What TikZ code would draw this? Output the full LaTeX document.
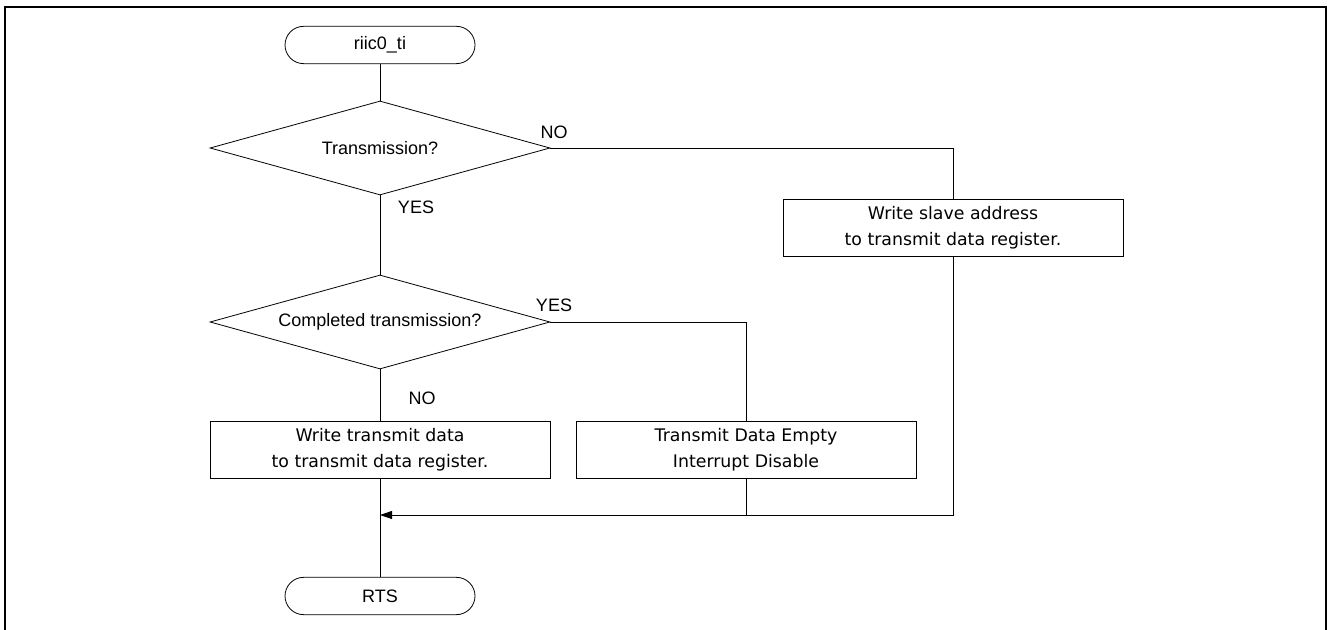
\documentclass[tikz,border=0pt]{standalone}
\usepackage{fontspec}
\setmainfont{Liberation Sans}
\newfontfamily\boxfont{DejaVu Sans}
\usetikzlibrary{calc,arrows.meta,positioning,shapes.geometric}

\begin{document}
\begin{tikzpicture}[
		x=0.75pt, y=-0.75pt,
		every node/.style={font=\fontsize{13.5}{16}\selectfont},
		line/.style={line width=0.6pt},
		terminal/.style={draw, line width=0.6pt, rectangle, rounded corners=14pt, minimum width=142.5pt, minimum height=28pt, inner sep=0pt},
		decision/.style={draw, line width=0.6pt, diamond, aspect=3.6, minimum width=255pt, minimum height=70.5pt, inner sep=0pt},
		process/.style={draw, line width=0.6pt, rectangle, minimum width=255pt, minimum height=42.75pt, inner sep=0pt, align=center, font=\boxfont\fontsize{13}{19.5}\selectfont},
		lbl/.style={inner sep=0pt}
	]
		\useasboundingbox (0,0) rectangle (1328,630);
		\draw[line width=1.9pt] (5,630) -- (5,7) -- (1326,7) -- (1326,630);

		\node[terminal] (start) at (380,45) {riic0\_ti};
		\node[decision] (txq) at (380,148) {Transmission?};
		\node[decision] (doneq) at (380,322) {Completed transmission?};
		\node[process] (wrdata) at (380,450) {Write transmit data\\to transmit data register.};
		\node[process] (tiedis) at (746,450) {Transmit Data Empty\\Interrupt Disable};
		\node[process] (wrslave) at (953,228) {Write slave address\\to transmit data register.};
		\node[terminal] (rts) at (380,596) {RTS};
		\coordinate (merge) at (380,515);

		\draw[line] (start) -- (txq);
		\draw[line] (txq.east) -| (wrslave.north);
		\draw[line] (txq) -- (doneq);
		\draw[line] (doneq.east) -| (tiedis.north);
		\draw[line] (doneq) -- (wrdata);
		\draw[line] (wrdata) -- (rts);
		\draw[line] (tiedis.south) -- (tiedis.south |- merge);
		\draw[line, -{Triangle[length=9pt,width=6pt]}] (wrslave.south) |- (merge);

		\node[lbl] at (554,132) {NO};
		\node[lbl] at (416,207) {YES};
		\node[lbl] at (554,305) {YES};
		\node[lbl] at (422,398) {NO};
	\end{tikzpicture}
\end{document}
